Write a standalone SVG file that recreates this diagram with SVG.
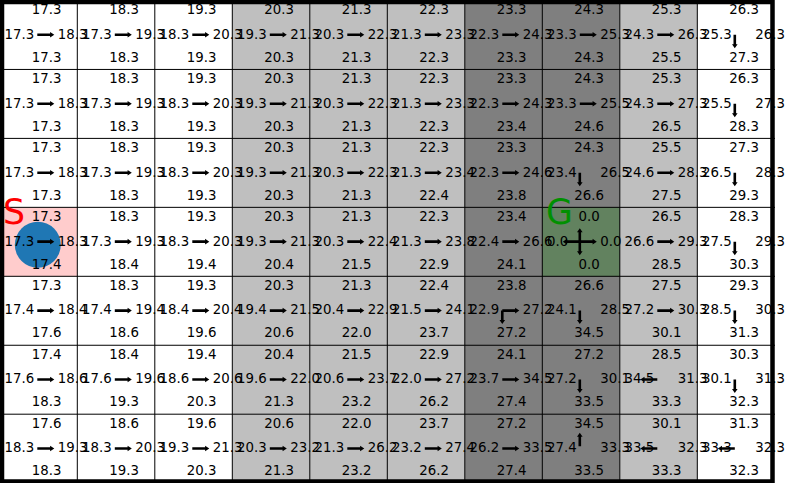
<svg xmlns="http://www.w3.org/2000/svg" xmlns:xlink="http://www.w3.org/1999/xlink" width="786" height="483" viewBox="0 0 786 483">
<style>
text{font-family:"DejaVu Sans",sans-serif;font-size:13.33px;fill:#000}
text.m{text-anchor:middle}
.grid line{stroke:#000;stroke-width:1}
.big{font-size:34.7px}
</style>
<defs>
<path id="R" d="M0,-1.3H12.8V-2.8L17,0L12.8,2.8V1.3H0Z" fill="#000"/>
<path id="L" d="M0,-1.3H-12.8V-2.8L-17,0L-12.8,2.8V1.3H0Z" fill="#000"/>
<path id="D" d="M-1.3,0V9.5H-2.8L0,13.5L2.8,9.5H1.3V0Z" fill="#000"/>
<path id="U" d="M-1.3,0V-9.5H-2.8L0,-13.5L2.8,-9.5H1.3V0Z" fill="#000"/>
</defs>
<rect x="0" y="0" width="786" height="483" fill="#fff"/>
<g id="backgrounds">
<rect x="232.3" y="0" width="232.5" height="483" fill="#bfbfbf"/>
<rect x="464.8" y="0" width="155" height="483" fill="#7f7f7f"/>
<rect x="619.8" y="0" width="77.5" height="483" fill="#bfbfbf"/>
<rect x="0" y="207.35" width="77.3" height="68.95" fill="#ffcccc"/>
<rect x="542.3" y="207.35" width="77.5" height="68.95" fill="#62825f"/>
</g>
<g class="grid" id="connectors">
<line x1="77.3" y1="0" x2="77.3" y2="483"/>
<line x1="154.8" y1="0" x2="154.8" y2="483"/>
<line x1="232.3" y1="0" x2="232.3" y2="483"/>
<line x1="309.8" y1="0" x2="309.8" y2="483"/>
<line x1="387.3" y1="0" x2="387.3" y2="483"/>
<line x1="464.8" y1="0" x2="464.8" y2="483"/>
<line x1="542.3" y1="0" x2="542.3" y2="483"/>
<line x1="619.8" y1="0" x2="619.8" y2="483"/>
<line x1="697.3" y1="0" x2="697.3" y2="483"/>
<line x1="0" y1="69.45" x2="775" y2="69.45"/>
<line x1="0" y1="138.4" x2="775" y2="138.4"/>
<line x1="0" y1="207.35" x2="775" y2="207.35"/>
<line x1="0" y1="276.3" x2="775" y2="276.3"/>
<line x1="0" y1="345.25" x2="775" y2="345.25"/>
<line x1="0" y1="414.2" x2="775" y2="414.2"/>
</g>
<circle id="agent" cx="37.8" cy="244.7" r="23" fill="#1f77b4"/>

<g id="r0c0" transform="translate(-0.2,0.5)"><text class="m" x="46.8" y="13.9">17.3</text><text x="4.7" y="38.2">17.3</text><text x="58" y="38.2">18.3</text><text class="m" x="46.8" y="61.2">17.3</text><use xlink:href="#R" x="37.5" y="34.3"/></g>
<g id="r0c1" transform="translate(77.3,0.5)"><text class="m" x="46.8" y="13.9">18.3</text><text x="4.7" y="38.2">17.3</text><text x="58" y="38.2">19.3</text><text class="m" x="46.8" y="61.2">18.3</text><use xlink:href="#R" x="37.5" y="34.3"/></g>
<g id="r0c2" transform="translate(154.8,0.5)"><text class="m" x="46.8" y="13.9">19.3</text><text x="4.7" y="38.2">18.3</text><text x="58" y="38.2">20.3</text><text class="m" x="46.8" y="61.2">19.3</text><use xlink:href="#R" x="37.5" y="34.3"/></g>
<g id="r0c3" transform="translate(232.3,0.5)"><text class="m" x="46.8" y="13.9">20.3</text><text x="4.7" y="38.2">19.3</text><text x="58" y="38.2">21.3</text><text class="m" x="46.8" y="61.2">20.3</text><use xlink:href="#R" x="37.5" y="34.3"/></g>
<g id="r0c4" transform="translate(309.8,0.5)"><text class="m" x="46.8" y="13.9">21.3</text><text x="4.7" y="38.2">20.3</text><text x="58" y="38.2">22.3</text><text class="m" x="46.8" y="61.2">21.3</text><use xlink:href="#R" x="37.5" y="34.3"/></g>
<g id="r0c5" transform="translate(387.3,0.5)"><text class="m" x="46.8" y="13.9">22.3</text><text x="4.7" y="38.2">21.3</text><text x="58" y="38.2">23.3</text><text class="m" x="46.8" y="61.2">22.3</text><use xlink:href="#R" x="37.5" y="34.3"/></g>
<g id="r0c6" transform="translate(464.8,0.5)"><text class="m" x="46.8" y="13.9">23.3</text><text x="4.7" y="38.2">22.3</text><text x="58" y="38.2">24.3</text><text class="m" x="46.8" y="61.2">23.3</text><use xlink:href="#R" x="37.5" y="34.3"/></g>
<g id="r0c7" transform="translate(542.3,0.5)"><text class="m" x="46.8" y="13.9">24.3</text><text x="4.7" y="38.2">23.3</text><text x="58" y="38.2">25.3</text><text class="m" x="46.8" y="61.2">24.3</text><use xlink:href="#R" x="37.5" y="34.3"/></g>
<g id="r0c8" transform="translate(619.8,0.5)"><text class="m" x="46.8" y="13.9">25.3</text><text x="4.7" y="38.2">24.3</text><text x="58" y="38.2">26.3</text><text class="m" x="46.8" y="61.2">25.5</text><use xlink:href="#R" x="37.5" y="34.3"/></g>
<g id="r0c9" transform="translate(697.3,0.5)"><text class="m" x="46.8" y="13.9">26.3</text><text x="4.7" y="38.2">25.3</text><text x="58" y="38.2">26.3</text><text class="m" x="46.8" y="61.2">27.3</text><use xlink:href="#D" x="37.5" y="34.3"/></g>

<g id="r1c0" transform="translate(-0.2,69.45)"><text class="m" x="46.8" y="13.9">17.3</text><text x="4.7" y="38.2">17.3</text><text x="58" y="38.2">18.3</text><text class="m" x="46.8" y="61.2">17.3</text><use xlink:href="#R" x="37.5" y="34.3"/></g>
<g id="r1c1" transform="translate(77.3,69.45)"><text class="m" x="46.8" y="13.9">18.3</text><text x="4.7" y="38.2">17.3</text><text x="58" y="38.2">19.3</text><text class="m" x="46.8" y="61.2">18.3</text><use xlink:href="#R" x="37.5" y="34.3"/></g>
<g id="r1c2" transform="translate(154.8,69.45)"><text class="m" x="46.8" y="13.9">19.3</text><text x="4.7" y="38.2">18.3</text><text x="58" y="38.2">20.3</text><text class="m" x="46.8" y="61.2">19.3</text><use xlink:href="#R" x="37.5" y="34.3"/></g>
<g id="r1c3" transform="translate(232.3,69.45)"><text class="m" x="46.8" y="13.9">20.3</text><text x="4.7" y="38.2">19.3</text><text x="58" y="38.2">21.3</text><text class="m" x="46.8" y="61.2">20.3</text><use xlink:href="#R" x="37.5" y="34.3"/></g>
<g id="r1c4" transform="translate(309.8,69.45)"><text class="m" x="46.8" y="13.9">21.3</text><text x="4.7" y="38.2">20.3</text><text x="58" y="38.2">22.3</text><text class="m" x="46.8" y="61.2">21.3</text><use xlink:href="#R" x="37.5" y="34.3"/></g>
<g id="r1c5" transform="translate(387.3,69.45)"><text class="m" x="46.8" y="13.9">22.3</text><text x="4.7" y="38.2">21.3</text><text x="58" y="38.2">23.3</text><text class="m" x="46.8" y="61.2">22.3</text><use xlink:href="#R" x="37.5" y="34.3"/></g>
<g id="r1c6" transform="translate(464.8,69.45)"><text class="m" x="46.8" y="13.9">23.3</text><text x="4.7" y="38.2">22.3</text><text x="58" y="38.2">24.3</text><text class="m" x="46.8" y="61.2">23.4</text><use xlink:href="#R" x="37.5" y="34.3"/></g>
<g id="r1c7" transform="translate(542.3,69.45)"><text class="m" x="46.8" y="13.9">24.3</text><text x="4.7" y="38.2">23.3</text><text x="58" y="38.2">25.5</text><text class="m" x="46.8" y="61.2">24.6</text><use xlink:href="#R" x="37.5" y="34.3"/></g>
<g id="r1c8" transform="translate(619.8,69.45)"><text class="m" x="46.8" y="13.9">25.3</text><text x="4.7" y="38.2">24.3</text><text x="58" y="38.2">27.3</text><text class="m" x="46.8" y="61.2">26.5</text><use xlink:href="#R" x="37.5" y="34.3"/></g>
<g id="r1c9" transform="translate(697.3,69.45)"><text class="m" x="46.8" y="13.9">26.3</text><text x="4.7" y="38.2">25.5</text><text x="58" y="38.2">27.3</text><text class="m" x="46.8" y="61.2">28.3</text><use xlink:href="#D" x="37.5" y="34.3"/></g>

<g id="r2c0" transform="translate(-0.2,138.4)"><text class="m" x="46.8" y="13.9">17.3</text><text x="4.7" y="38.2">17.3</text><text x="58" y="38.2">18.3</text><text class="m" x="46.8" y="61.2">17.3</text><use xlink:href="#R" x="37.5" y="34.3"/></g>
<g id="r2c1" transform="translate(77.3,138.4)"><text class="m" x="46.8" y="13.9">18.3</text><text x="4.7" y="38.2">17.3</text><text x="58" y="38.2">19.3</text><text class="m" x="46.8" y="61.2">18.3</text><use xlink:href="#R" x="37.5" y="34.3"/></g>
<g id="r2c2" transform="translate(154.8,138.4)"><text class="m" x="46.8" y="13.9">19.3</text><text x="4.7" y="38.2">18.3</text><text x="58" y="38.2">20.3</text><text class="m" x="46.8" y="61.2">19.3</text><use xlink:href="#R" x="37.5" y="34.3"/></g>
<g id="r2c3" transform="translate(232.3,138.4)"><text class="m" x="46.8" y="13.9">20.3</text><text x="4.7" y="38.2">19.3</text><text x="58" y="38.2">21.3</text><text class="m" x="46.8" y="61.2">20.3</text><use xlink:href="#R" x="37.5" y="34.3"/></g>
<g id="r2c4" transform="translate(309.8,138.4)"><text class="m" x="46.8" y="13.9">21.3</text><text x="4.7" y="38.2">20.3</text><text x="58" y="38.2">22.3</text><text class="m" x="46.8" y="61.2">21.3</text><use xlink:href="#R" x="37.5" y="34.3"/></g>
<g id="r2c5" transform="translate(387.3,138.4)"><text class="m" x="46.8" y="13.9">22.3</text><text x="4.7" y="38.2">21.3</text><text x="58" y="38.2">23.4</text><text class="m" x="46.8" y="61.2">22.4</text><use xlink:href="#R" x="37.5" y="34.3"/></g>
<g id="r2c6" transform="translate(464.8,138.4)"><text class="m" x="46.8" y="13.9">23.3</text><text x="4.7" y="38.2">22.3</text><text x="58" y="38.2">24.6</text><text class="m" x="46.8" y="61.2">23.8</text><use xlink:href="#R" x="37.5" y="34.3"/></g>
<g id="r2c7" transform="translate(542.3,138.4)"><text class="m" x="46.8" y="13.9">24.3</text><text x="4.7" y="38.2">23.4</text><text x="58" y="38.2">26.5</text><text class="m" x="46.8" y="61.2">26.6</text><use xlink:href="#D" x="37.5" y="34.3"/></g>
<g id="r2c8" transform="translate(619.8,138.4)"><text class="m" x="46.8" y="13.9">25.5</text><text x="4.7" y="38.2">24.6</text><text x="58" y="38.2">28.3</text><text class="m" x="46.8" y="61.2">27.5</text><use xlink:href="#R" x="37.5" y="34.3"/></g>
<g id="r2c9" transform="translate(697.3,138.4)"><text class="m" x="46.8" y="13.9">27.3</text><text x="4.7" y="38.2">26.5</text><text x="58" y="38.2">28.3</text><text class="m" x="46.8" y="61.2">29.3</text><use xlink:href="#D" x="37.5" y="34.3"/></g>

<g id="r3c0" transform="translate(-0.2,207.35)"><text class="m" x="46.8" y="13.9">17.3</text><text x="4.7" y="38.2">17.3</text><text x="58" y="38.2">18.3</text><text class="m" x="46.8" y="61.2">17.4</text><use xlink:href="#R" x="37.5" y="34.3"/><text class="big" x="3.3" y="16.7" fill="#ff0000" style="fill:#ff0000">S</text></g>
<g id="r3c1" transform="translate(77.3,207.35)"><text class="m" x="46.8" y="13.9">18.3</text><text x="4.7" y="38.2">17.3</text><text x="58" y="38.2">19.3</text><text class="m" x="46.8" y="61.2">18.4</text><use xlink:href="#R" x="37.5" y="34.3"/></g>
<g id="r3c2" transform="translate(154.8,207.35)"><text class="m" x="46.8" y="13.9">19.3</text><text x="4.7" y="38.2">18.3</text><text x="58" y="38.2">20.3</text><text class="m" x="46.8" y="61.2">19.4</text><use xlink:href="#R" x="37.5" y="34.3"/></g>
<g id="r3c3" transform="translate(232.3,207.35)"><text class="m" x="46.8" y="13.9">20.3</text><text x="4.7" y="38.2">19.3</text><text x="58" y="38.2">21.3</text><text class="m" x="46.8" y="61.2">20.4</text><use xlink:href="#R" x="37.5" y="34.3"/></g>
<g id="r3c4" transform="translate(309.8,207.35)"><text class="m" x="46.8" y="13.9">21.3</text><text x="4.7" y="38.2">20.3</text><text x="58" y="38.2">22.4</text><text class="m" x="46.8" y="61.2">21.5</text><use xlink:href="#R" x="37.5" y="34.3"/></g>
<g id="r3c5" transform="translate(387.3,207.35)"><text class="m" x="46.8" y="13.9">22.3</text><text x="4.7" y="38.2">21.3</text><text x="58" y="38.2">23.8</text><text class="m" x="46.8" y="61.2">22.9</text><use xlink:href="#R" x="37.5" y="34.3"/></g>
<g id="r3c6" transform="translate(464.8,207.35)"><text class="m" x="46.8" y="13.9">23.4</text><text x="4.7" y="38.2">22.4</text><text x="58" y="38.2">26.6</text><text class="m" x="46.8" y="61.2">24.1</text><use xlink:href="#R" x="37.5" y="34.3"/></g>
<g id="r3c7" transform="translate(542.3,207.35)"><text class="m" x="46.8" y="13.9">0.0</text><text x="4.7" y="38.2">0.0</text><text x="58" y="38.2">0.0</text><text class="m" x="46.8" y="61.2">0.0</text><use xlink:href="#R" x="37.5" y="34.3"/><use xlink:href="#L" x="37.5" y="34.3"/><use xlink:href="#U" x="37.5" y="34.3"/><use xlink:href="#D" x="37.5" y="34.3"/><text class="big" x="3.7" y="16.7" style="fill:#009000">G</text></g>
<g id="r3c8" transform="translate(619.8,207.35)"><text class="m" x="46.8" y="13.9">26.5</text><text x="4.7" y="38.2">26.6</text><text x="58" y="38.2">29.3</text><text class="m" x="46.8" y="61.2">28.5</text><use xlink:href="#R" x="37.5" y="34.3"/></g>
<g id="r3c9" transform="translate(697.3,207.35)"><text class="m" x="46.8" y="13.9">28.3</text><text x="4.7" y="38.2">27.5</text><text x="58" y="38.2">29.3</text><text class="m" x="46.8" y="61.2">30.3</text><use xlink:href="#D" x="37.5" y="34.3"/></g>

<g id="r4c0" transform="translate(-0.2,276.3)"><text class="m" x="46.8" y="13.9">17.3</text><text x="4.7" y="38.2">17.4</text><text x="58" y="38.2">18.4</text><text class="m" x="46.8" y="61.2">17.6</text><use xlink:href="#R" x="37.5" y="34.3"/></g>
<g id="r4c1" transform="translate(77.3,276.3)"><text class="m" x="46.8" y="13.9">18.3</text><text x="4.7" y="38.2">17.4</text><text x="58" y="38.2">19.4</text><text class="m" x="46.8" y="61.2">18.6</text><use xlink:href="#R" x="37.5" y="34.3"/></g>
<g id="r4c2" transform="translate(154.8,276.3)"><text class="m" x="46.8" y="13.9">19.3</text><text x="4.7" y="38.2">18.4</text><text x="58" y="38.2">20.4</text><text class="m" x="46.8" y="61.2">19.6</text><use xlink:href="#R" x="37.5" y="34.3"/></g>
<g id="r4c3" transform="translate(232.3,276.3)"><text class="m" x="46.8" y="13.9">20.3</text><text x="4.7" y="38.2">19.4</text><text x="58" y="38.2">21.5</text><text class="m" x="46.8" y="61.2">20.6</text><use xlink:href="#R" x="37.5" y="34.3"/></g>
<g id="r4c4" transform="translate(309.8,276.3)"><text class="m" x="46.8" y="13.9">21.3</text><text x="4.7" y="38.2">20.4</text><text x="58" y="38.2">22.9</text><text class="m" x="46.8" y="61.2">22.0</text><use xlink:href="#R" x="37.5" y="34.3"/></g>
<g id="r4c5" transform="translate(387.3,276.3)"><text class="m" x="46.8" y="13.9">22.4</text><text x="4.7" y="38.2">21.5</text><text x="58" y="38.2">24.1</text><text class="m" x="46.8" y="61.2">23.7</text><use xlink:href="#R" x="37.5" y="34.3"/></g>
<g id="r4c6" transform="translate(464.8,276.3)"><text class="m" x="46.8" y="13.9">23.8</text><text x="4.7" y="38.2">22.9</text><text x="58" y="38.2">27.2</text><text class="m" x="46.8" y="61.2">27.2</text><use xlink:href="#R" x="37.5" y="34.3"/><use xlink:href="#D" x="37.5" y="34.3"/></g>
<g id="r4c7" transform="translate(542.3,276.3)"><text class="m" x="46.8" y="13.9">26.6</text><text x="4.7" y="38.2">24.1</text><text x="58" y="38.2">28.5</text><text class="m" x="46.8" y="61.2">34.5</text><use xlink:href="#D" x="37.5" y="34.3"/></g>
<g id="r4c8" transform="translate(619.8,276.3)"><text class="m" x="46.8" y="13.9">27.5</text><text x="4.7" y="38.2">27.2</text><text x="58" y="38.2">30.3</text><text class="m" x="46.8" y="61.2">30.1</text><use xlink:href="#R" x="37.5" y="34.3"/></g>
<g id="r4c9" transform="translate(697.3,276.3)"><text class="m" x="46.8" y="13.9">29.3</text><text x="4.7" y="38.2">28.5</text><text x="58" y="38.2">30.3</text><text class="m" x="46.8" y="61.2">31.3</text><use xlink:href="#D" x="37.5" y="34.3"/></g>

<g id="r5c0" transform="translate(-0.2,345.25)"><text class="m" x="46.8" y="13.9">17.4</text><text x="4.7" y="38.2">17.6</text><text x="58" y="38.2">18.6</text><text class="m" x="46.8" y="61.2">18.3</text><use xlink:href="#R" x="37.5" y="34.3"/></g>
<g id="r5c1" transform="translate(77.3,345.25)"><text class="m" x="46.8" y="13.9">18.4</text><text x="4.7" y="38.2">17.6</text><text x="58" y="38.2">19.6</text><text class="m" x="46.8" y="61.2">19.3</text><use xlink:href="#R" x="37.5" y="34.3"/></g>
<g id="r5c2" transform="translate(154.8,345.25)"><text class="m" x="46.8" y="13.9">19.4</text><text x="4.7" y="38.2">18.6</text><text x="58" y="38.2">20.6</text><text class="m" x="46.8" y="61.2">20.3</text><use xlink:href="#R" x="37.5" y="34.3"/></g>
<g id="r5c3" transform="translate(232.3,345.25)"><text class="m" x="46.8" y="13.9">20.4</text><text x="4.7" y="38.2">19.6</text><text x="58" y="38.2">22.0</text><text class="m" x="46.8" y="61.2">21.3</text><use xlink:href="#R" x="37.5" y="34.3"/></g>
<g id="r5c4" transform="translate(309.8,345.25)"><text class="m" x="46.8" y="13.9">21.5</text><text x="4.7" y="38.2">20.6</text><text x="58" y="38.2">23.7</text><text class="m" x="46.8" y="61.2">23.2</text><use xlink:href="#R" x="37.5" y="34.3"/></g>
<g id="r5c5" transform="translate(387.3,345.25)"><text class="m" x="46.8" y="13.9">22.9</text><text x="4.7" y="38.2">22.0</text><text x="58" y="38.2">27.2</text><text class="m" x="46.8" y="61.2">26.2</text><use xlink:href="#R" x="37.5" y="34.3"/></g>
<g id="r5c6" transform="translate(464.8,345.25)"><text class="m" x="46.8" y="13.9">24.1</text><text x="4.7" y="38.2">23.7</text><text x="58" y="38.2">34.5</text><text class="m" x="46.8" y="61.2">27.4</text><use xlink:href="#R" x="37.5" y="34.3"/></g>
<g id="r5c7" transform="translate(542.3,345.25)"><text class="m" x="46.8" y="13.9">27.2</text><text x="4.7" y="38.2">27.2</text><text x="58" y="38.2">30.1</text><text class="m" x="46.8" y="61.2">33.5</text><use xlink:href="#D" x="37.5" y="34.3"/></g>
<g id="r5c8" transform="translate(619.8,345.25)"><text class="m" x="46.8" y="13.9">28.5</text><text x="4.7" y="38.2">34.5</text><text x="58" y="38.2">31.3</text><text class="m" x="46.8" y="61.2">33.3</text><use xlink:href="#L" x="37.5" y="34.3"/></g>
<g id="r5c9" transform="translate(697.3,345.25)"><text class="m" x="46.8" y="13.9">30.3</text><text x="4.7" y="38.2">30.1</text><text x="58" y="38.2">31.3</text><text class="m" x="46.8" y="61.2">32.3</text><use xlink:href="#D" x="37.5" y="34.3"/></g>

<g id="r6c0" transform="translate(-0.2,414.2)"><text class="m" x="46.8" y="13.9">17.6</text><text x="4.7" y="38.2">18.3</text><text x="58" y="38.2">19.3</text><text class="m" x="46.8" y="61.2">18.3</text><use xlink:href="#R" x="37.5" y="34.3"/></g>
<g id="r6c1" transform="translate(77.3,414.2)"><text class="m" x="46.8" y="13.9">18.6</text><text x="4.7" y="38.2">18.3</text><text x="58" y="38.2">20.3</text><text class="m" x="46.8" y="61.2">19.3</text><use xlink:href="#R" x="37.5" y="34.3"/></g>
<g id="r6c2" transform="translate(154.8,414.2)"><text class="m" x="46.8" y="13.9">19.6</text><text x="4.7" y="38.2">19.3</text><text x="58" y="38.2">21.3</text><text class="m" x="46.8" y="61.2">20.3</text><use xlink:href="#R" x="37.5" y="34.3"/></g>
<g id="r6c3" transform="translate(232.3,414.2)"><text class="m" x="46.8" y="13.9">20.6</text><text x="4.7" y="38.2">20.3</text><text x="58" y="38.2">23.2</text><text class="m" x="46.8" y="61.2">21.3</text><use xlink:href="#R" x="37.5" y="34.3"/></g>
<g id="r6c4" transform="translate(309.8,414.2)"><text class="m" x="46.8" y="13.9">22.0</text><text x="4.7" y="38.2">21.3</text><text x="58" y="38.2">26.2</text><text class="m" x="46.8" y="61.2">23.2</text><use xlink:href="#R" x="37.5" y="34.3"/></g>
<g id="r6c5" transform="translate(387.3,414.2)"><text class="m" x="46.8" y="13.9">23.7</text><text x="4.7" y="38.2">23.2</text><text x="58" y="38.2">27.4</text><text class="m" x="46.8" y="61.2">26.2</text><use xlink:href="#R" x="37.5" y="34.3"/></g>
<g id="r6c6" transform="translate(464.8,414.2)"><text class="m" x="46.8" y="13.9">27.2</text><text x="4.7" y="38.2">26.2</text><text x="58" y="38.2">33.5</text><text class="m" x="46.8" y="61.2">27.4</text><use xlink:href="#R" x="37.5" y="34.3"/></g>
<g id="r6c7" transform="translate(542.3,414.2)"><text class="m" x="46.8" y="13.9">34.5</text><text x="4.7" y="38.2">27.4</text><text x="58" y="38.2">33.3</text><text class="m" x="46.8" y="61.2">33.5</text><use xlink:href="#U" x="37.5" y="32"/></g>
<g id="r6c8" transform="translate(619.8,414.2)"><text class="m" x="46.8" y="13.9">30.1</text><text x="4.7" y="38.2">33.5</text><text x="58" y="38.2">32.3</text><text class="m" x="46.8" y="61.2">33.3</text><use xlink:href="#L" x="37.5" y="34.3"/></g>
<g id="r6c9" transform="translate(697.3,414.2)"><text class="m" x="46.8" y="13.9">31.3</text><text x="4.7" y="38.2">33.3</text><text x="58" y="38.2">32.3</text><text class="m" x="46.8" y="61.2">32.3</text><use xlink:href="#L" x="37.5" y="34.3"/></g>

<rect id="border" x="2" y="2" width="770.5" height="479.5" fill="none" stroke="#000" stroke-width="4.5"/>
</svg>
